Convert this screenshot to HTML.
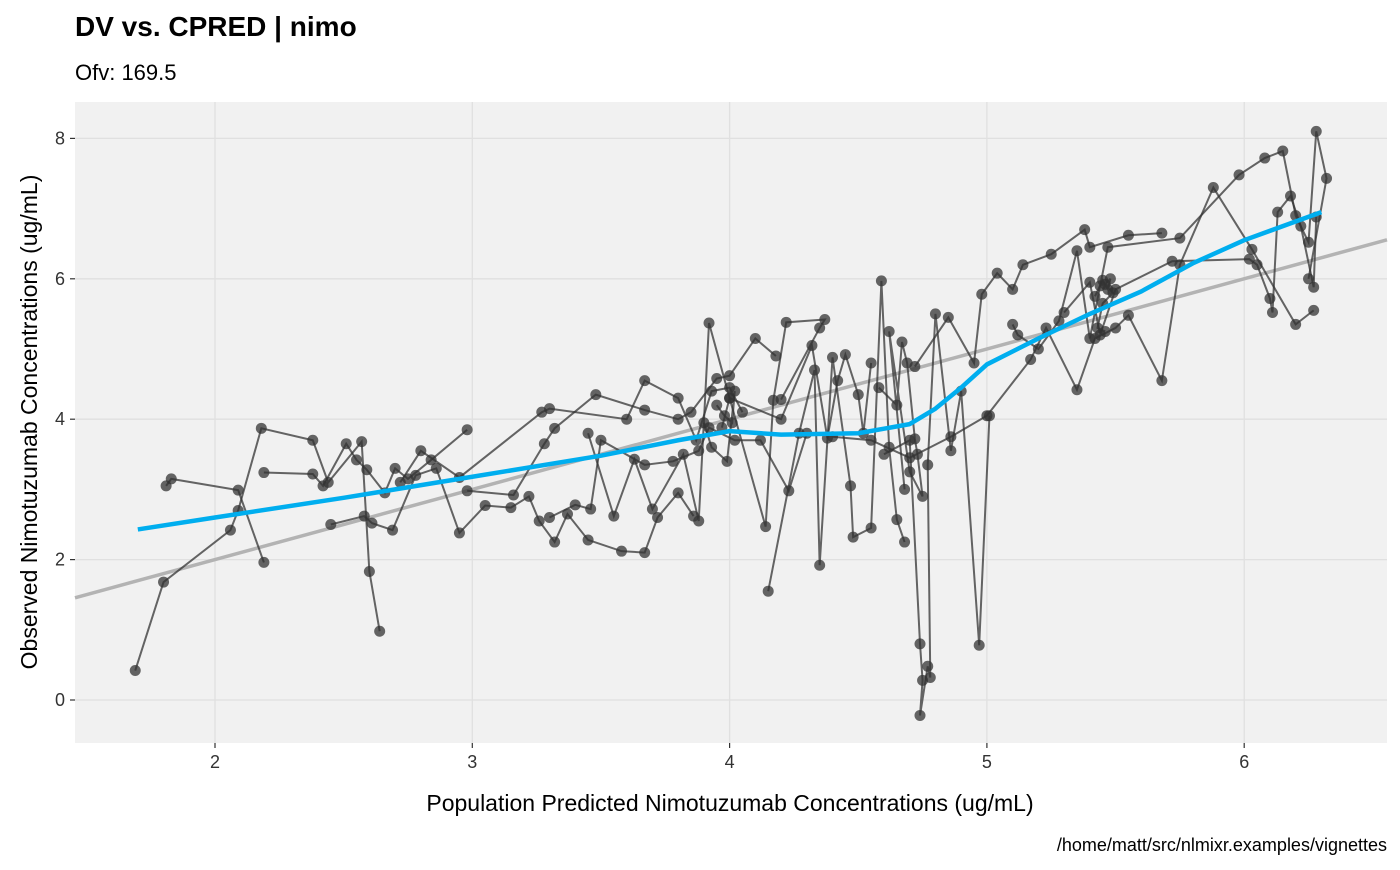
<!DOCTYPE html>
<html><head><meta charset="utf-8"><style>
body{margin:0;background:#fff;font-family:"Liberation Sans",Arial,sans-serif}
svg text{font-family:"Liberation Sans",Arial,sans-serif}
</style></head><body>
<svg id="chart" width="1400" height="865">
<text x="75" y="36" font-size="28" font-weight="bold" fill="#000">DV vs. CPRED | nimo</text>
<text x="75" y="80" font-size="22" fill="#000">Ofv: 169.5</text>
<rect x="75" y="102" width="1312" height="641" fill="#f1f1f1"/>
<g id="grid"></g><g id="marks"></g>
<text x="730" y="811" font-size="23" text-anchor="middle" fill="#000">Population Predicted Nimotuzumab Concentrations (ug/mL)</text>
<text transform="translate(37,422) rotate(-90)" font-size="23" text-anchor="middle" fill="#000">Observed Nimotuzumab Concentrations (ug/mL)</text>
<text x="1387" y="851" font-size="18" text-anchor="end" fill="#000">/home/matt/src/nlmixr.examples/vignettes</text>
</svg>
<script>
const xTicks=[2,3,4,5,6];
const yTicks=[0,2,4,6,8];
const loessX=[1.7,2,2.5,3,3.5,3.8,4,4.2,4.5,4.7,4.8,4.9,5,5.2,5.4,5.6,5.8,6,6.3];
const loessY=[2.43,2.6,2.88,3.18,3.48,3.7,3.83,3.78,3.8,3.93,4.15,4.45,4.78,5.15,5.5,5.82,6.22,6.55,6.95];
const paths=[
[[1.69,0.42],[1.80,1.68],[2.06,2.42],[2.09,2.70],[2.18,3.87],[2.38,3.70],[2.44,3.10],[2.57,3.68],[2.60,1.83],[2.64,0.98]],
[[1.81,3.05],[1.83,3.15],[2.09,2.99],[2.19,1.96]],
[[2.19,3.24],[2.38,3.22],[2.42,3.05],[2.51,3.65],[2.55,3.42],[2.59,3.28],[2.66,2.95],[2.70,3.30],[2.75,3.15],[2.84,3.42],[2.98,3.85]],
[[2.45,2.50],[2.58,2.62],[2.61,2.52],[2.69,2.42],[2.78,3.20],[2.86,3.30],[2.95,2.38],[3.05,2.77],[3.15,2.74],[3.22,2.90],[3.26,2.55],[3.32,2.25],[3.37,2.65],[3.45,2.28],[3.58,2.12],[3.67,2.10],[3.72,2.60],[3.80,2.95],[3.86,2.62]],
[[2.72,3.10],[2.80,3.55],[2.95,3.17],[3.27,4.10],[3.30,4.15],[3.60,4.00],[3.67,4.55],[3.80,4.30],[3.87,3.70],[3.93,4.40],[4.00,4.45],[4.05,4.10]],
[[2.98,2.98],[3.16,2.92],[3.28,3.65],[3.32,3.87],[3.48,4.35],[3.67,4.13],[3.80,4.00],[3.85,4.10],[3.95,4.58],[4.00,4.62],[4.10,5.15],[4.18,4.90]],
[[3.30,2.60],[3.40,2.78],[3.46,2.72],[3.50,3.70],[3.67,3.35],[3.78,3.40],[3.88,3.55],[3.92,3.88],[4.02,3.70],[4.12,3.70],[4.23,2.98],[4.30,3.80]],
[[3.45,3.80],[3.55,2.62],[3.63,3.43],[3.70,2.72],[3.82,3.50],[3.88,2.55],[3.92,5.37],[4.00,4.30],[4.14,2.47],[4.17,4.27],[4.22,5.38],[4.37,5.42],[4.35,5.30],[4.20,4.28]],
[[4.15,1.55],[4.27,3.80],[4.33,4.70],[4.35,1.92],[4.40,4.88],[4.47,3.05],[4.48,2.32],[4.55,2.45],[4.59,5.97],[4.62,3.60],[4.65,2.57],[4.68,2.25]],
[[4.60,3.50],[4.70,3.70],[4.74,0.80],[4.75,0.28],[4.74,-0.22],[4.77,0.48],[4.78,0.32],[4.77,3.35],[4.80,5.50],[4.86,3.55],[4.90,4.40],[4.97,0.78],[5.01,4.05]],
[[4.72,4.75],[4.85,5.45],[4.95,4.80],[4.98,5.78],[5.04,6.08],[5.10,5.85],[5.14,6.20],[5.25,6.35],[5.38,6.70],[5.40,6.45],[5.55,6.62],[5.68,6.65]],
[[4.40,3.75],[4.55,3.70],[4.70,3.45],[4.86,3.75],[5.00,4.05],[5.17,4.85],[5.23,5.30],[5.35,4.42],[5.42,5.15],[5.50,5.30],[5.55,5.48],[5.68,4.55],[5.75,6.20],[5.88,7.30],[6.03,6.42],[6.20,5.35],[6.27,5.55]],
[[5.10,5.35],[5.12,5.20],[5.20,5.00],[5.28,5.40],[5.35,6.40],[5.40,5.15],[5.44,5.90],[5.47,6.45],[5.75,6.58],[5.98,7.48],[6.08,7.72],[6.15,7.82],[6.20,6.90],[6.25,6.52],[6.28,8.10],[6.32,7.43],[6.25,6.00]],
[[5.30,5.52],[5.40,5.95],[5.44,5.20],[5.50,5.85],[5.72,6.25],[6.02,6.28],[6.05,6.20],[6.10,5.72],[6.11,5.52],[6.13,6.95],[6.18,7.18],[6.22,6.75],[6.27,5.88],[6.28,6.88]],
[[4.58,4.45],[4.65,4.20],[4.67,5.10],[4.69,4.80],[4.72,3.72],[4.73,3.50],[4.75,2.90],[4.70,3.25],[4.62,5.25],[4.68,3.00]],
[[3.97,3.88],[4.00,4.30],[4.20,4.00],[4.32,5.05],[4.38,3.73],[4.42,4.55],[4.45,4.92],[4.50,4.35],[4.52,3.80],[4.55,4.80]],
[[3.95,4.20],[3.98,4.05],[4.01,3.95],[4.02,4.40],[3.99,3.40],[3.93,3.60],[3.90,3.95]],
[[5.42,5.75],[5.45,5.98],[5.47,5.85],[5.48,6.00],[5.46,5.92],[5.49,5.80],[5.45,5.65],[5.43,5.30],[5.46,5.25]]
];
const NS='http://www.w3.org/2000/svg';
const X0=75,X1=1387,Y0=102,Y1=743;
const xs=v=>215+(v-2)*257.3;
const ys=v=>700-v*70.2;
const grid=document.getElementById('grid'),marks=document.getElementById('marks');
function mk(tag,attrs,parent){const e=document.createElementNS(NS,tag);for(const k in attrs)e.setAttribute(k,attrs[k]);parent.appendChild(e);return e;}
xTicks.forEach(v=>{const l=mk('line',{x1:xs(v),x2:xs(v),y1:Y0,y2:Y1,stroke:'#e0e0e0','stroke-width':1.3},grid);


const tk=mk('line',{x1:xs(v),x2:xs(v),y1:Y1,y2:Y1+5,stroke:'#333','stroke-width':1.2},grid);


const t=mk('text',{x:xs(v),y:Y1+25,'font-size':18,'text-anchor':'middle',fill:'#333'},grid);t.textContent=v;

});
yTicks.forEach(v=>{const l=mk('line',{x1:X0,x2:X1,y1:ys(v),y2:ys(v),stroke:'#e0e0e0','stroke-width':1.3},grid);


const tk=mk('line',{x1:X0-5,x2:X0,y1:ys(v),y2:ys(v),stroke:'#333','stroke-width':1.2},grid);


const t=mk('text',{x:X0-10,y:ys(v)+6,'font-size':18,'text-anchor':'end',fill:'#333'},grid);t.textContent=v;

});
const xa=2+(X0-215)/257.3,xb=2+(X1-215)/257.3;
const id=mk('line',{x1:xs(xa),y1:ys(xa),x2:xs(xb),y2:ys(xb),stroke:'#b3b3b3','stroke-width':3.5},marks);


paths.forEach(p=>{const pl=mk('polyline',{points:p.map(d=>xs(d[0])+','+ys(d[1])).join(' '),fill:'none',stroke:'#333','stroke-opacity':0.75,'stroke-width':2},marks);

});
paths.forEach(p=>p.forEach(d=>{const c=mk('circle',{cx:xs(d[0]),cy:ys(d[1]),r:5.5,fill:'#333','fill-opacity':0.75},marks);

}));
const lo=mk('polyline',{points:loessX.map((v,i)=>xs(v)+','+ys(loessY[i])).join(' '),fill:'none',stroke:'#00aeef','stroke-width':4.5,'stroke-linejoin':'round'},marks);


</script>
</body></html>
